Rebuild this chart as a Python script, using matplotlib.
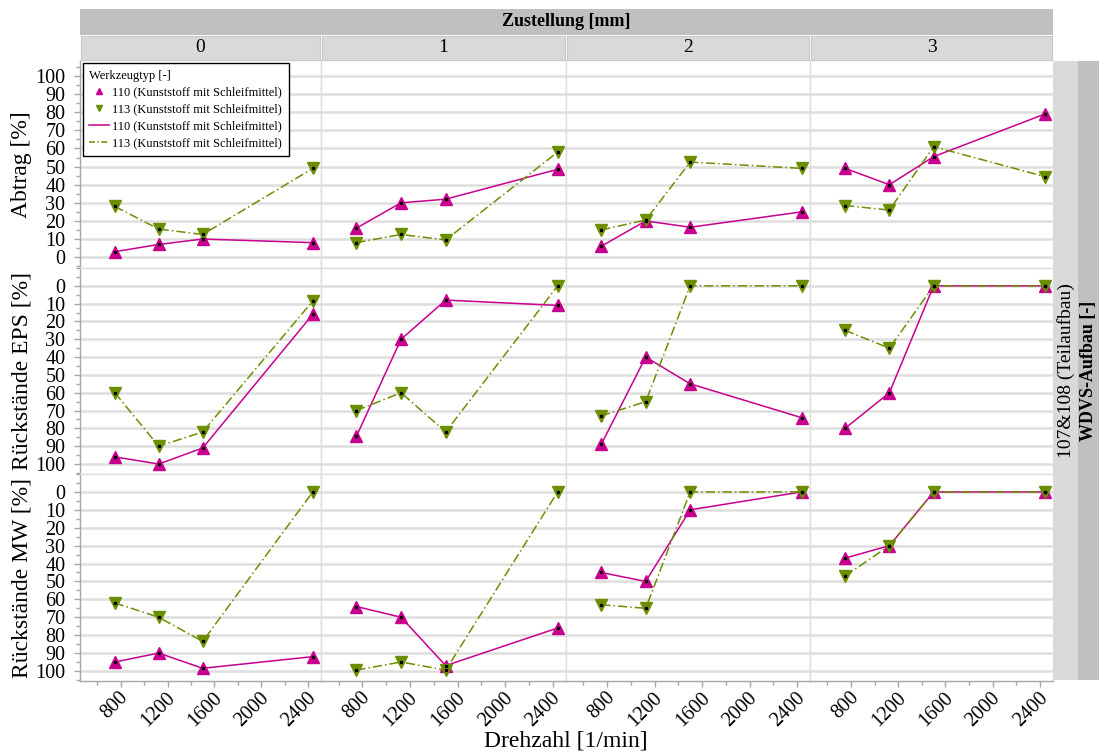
import matplotlib
matplotlib.use('Agg')
import matplotlib.pyplot as plt
import matplotlib.transforms as mtransforms
from matplotlib.lines import Line2D
from matplotlib.ticker import MultipleLocator, FixedLocator

plt.rcParams['font.family'] = ['Liberation Serif', 'DejaVu Serif']

# Versuchsdaten
drehzahl = [750, 1125, 1500, 2440]
zustellung = ['0', '1', '2', '3']
zeilen = ['Abtrag [%]', 'Rückstände EPS [%]', 'Rückstände MW [%]']
werkzeuge = ['110 (Kunststoff mit Schleifmittel)', '113 (Kunststoff mit Schleifmittel)']

# je Zustellung 0..3 eine Liste über die Drehzahlen
abtrag_110 = [[3, 7, 10, 8], [16, 30, 32, 48.5], [6, 20, 16.5, 25], [49, 40, 55.5, 79]]
abtrag_113 = [[28, 15.5, 12.5, 49], [8, 12.5, 9.5, 58], [15, 20.5, 52.5, 49], [28.5, 26, 61, 44.5]]
eps_110 = [[96, 100, 91, 16], [84.5, 30, 8, 11], [89, 40, 55, 74], [80, 60, 0, 0]]
eps_113 = [[60, 90, 82, 8.5], [70, 60, 82, 0], [73, 65, 0, 0], [25, 35, 0, 0]]
mw_110 = [[95, 90, 98.5, 92], [64, 70, 97, 76], [45, 50, 10, 0], [37, 30, 0, 0]]
mw_113 = [[62, 70, 83.5, 0], [99.5, 95, 99.5, 0], [63, 65, 0, 0], [47, 30, 0, 0]]

daten = [(abtrag_110, abtrag_113), (eps_110, eps_113), (mw_110, mw_113)]

c110 = '#c8008e'
c113 = '#6b8f00'
achse = '#a6a6a6'
gitter = '#dedede'

W, H = 1099, 756
fig = plt.figure(figsize=(W / 100, H / 100), dpi=100)


def box(x0, y0, x1, y1):
    return [x0 / W, 1 - y1 / H, (x1 - x0) / W, (y1 - y0) / H]


spalten = [80, 321, 566, 810, 1053]
reihen = [61, 268, 474, 681]

# Versatz der gedrehten x-Beschriftungen
versatz = mtransforms.ScaledTranslation(5 / 100, -5 / 100, fig.dpi_scale_trans)

for r in range(3):
    for c in range(4):
        ax = fig.add_axes(box(spalten[c], reihen[r], spalten[c + 1], reihen[r + 1]))
        y110, y113 = daten[r]
        ax.plot(drehzahl, y110[c], color=c110, lw=1.1, ls='-', marker='^', ms=8,
                mec=c110, mfc=c110, zorder=3)
        ax.plot(drehzahl, y113[c], color=c113, lw=1.1, ls=(0, (6, 2, 1, 2)), marker='v', ms=8,
                mec=c113, mfc=c113, zorder=4)
        ax.plot(drehzahl, y110[c], ls='none', marker='s', ms=1.4, color='k', zorder=5)
        ax.plot(drehzahl, y113[c], ls='none', marker='s', ms=1.4, color='k', zorder=5)

        ax.set_xlim(453, 2510)
        if r == 0:
            ax.set_ylim(-6, 108.3)
        else:
            ax.set_ylim(105.6, -10)

        ax.yaxis.set_major_locator(FixedLocator(range(0, 101, 10)))
        ax.yaxis.set_minor_locator(MultipleLocator(5))
        ax.xaxis.set_major_locator(FixedLocator([800, 1200, 1600, 2000, 2400]))
        ax.xaxis.set_minor_locator(FixedLocator([600, 1000, 1400, 1800, 2200]))
        ax.grid(axis='y', which='major', color=gitter, lw=1.8, zorder=0)

        for s in ax.spines.values():
            s.set_color(gitter)
            s.set_linewidth(1.0)
        ax.spines['top'].set_visible(r != 0)

        ax.tick_params(which='both', colors=achse, labelcolor='black', labelsize=14.5)
        ax.tick_params(which='major', length=4.5, width=1.0)
        ax.tick_params(which='minor', length=3, width=1.0)
        if c == 0:
            ax.spines['left'].set_color(achse)
            ax.tick_params(axis='y', pad=6)
            fig.text(22 / W, 1 - (reihen[r] + reihen[r + 1]) / 2 / H, zeilen[r],
                     rotation=90, ha='center', va='center', fontsize=17)
        else:
            ax.tick_params(axis='y', which='both', left=False, labelleft=False)
        if r == 2:
            ax.spines['bottom'].set_color(achse)
            ax.tick_params(axis='x', pad=2)
            for lbl in ax.get_xticklabels():
                lbl.set_rotation(45)
                lbl.set_ha('right')
                lbl.set_va('center')
                lbl.set_rotation_mode('anchor')
                lbl.set_transform(lbl.get_transform() + versatz)
        else:
            ax.tick_params(axis='x', which='both', bottom=False, labelbottom=False)

        if r == 0 and c == 0:
            handles = [
                Line2D([], [], ls='none', marker='^', ms=5, color=c110),
                Line2D([], [], ls='none', marker='v', ms=5, color=c113),
                Line2D([], [], ls='-', lw=1.1, color=c110),
                Line2D([], [], ls=(0, (4, 1.5, 1, 1.5)), lw=1.1, color=c113),
            ]
            leg = ax.legend(handles, werkzeuge + werkzeuge, title='Werkzeugtyp [-]',
                            loc='upper left', bbox_to_anchor=(0.0, 1.0), fontsize=9,
                            title_fontsize=9, alignment='left', frameon=True,
                            fancybox=False, edgecolor='black', framealpha=1,
                            handlelength=1.6, handletextpad=0.3, labelspacing=0.4,
                            borderpad=0.5, borderaxespad=0.2)
            leg.get_frame().set_linewidth(1.0)
            leg.set_zorder(10)

# Streifen oben
kopf = fig.add_axes(box(80, 9, 1053, 35))
kopf.set_facecolor('#c0c0c0')
kopf.set_xticks([])
kopf.set_yticks([])
for s in kopf.spines.values():
    s.set_visible(False)
kopf.text(0.5, 0.5, 'Zustellung [mm]', ha='center', va='center', fontsize=13,
          fontweight='bold', transform=kopf.transAxes)

for c in range(4):
    st = fig.add_axes(box(spalten[c] + 1, 36, spalten[c + 1] - 1, 60))
    st.set_facecolor('#d9d9d9')
    st.set_xticks([])
    st.set_yticks([])
    for s in st.spines.values():
        s.set_color('#c8c8c8')
    st.text(0.5, 0.5, zustellung[c], ha='center', va='center', fontsize=14,
            transform=st.transAxes)

# Streifen rechts
rs1 = fig.add_axes(box(1054, 61, 1078, 680))
rs1.set_facecolor('#d9d9d9')
rs2 = fig.add_axes(box(1078, 61, 1099, 680))
rs2.set_facecolor('#c0c0c0')
for a in (rs1, rs2):
    a.set_xticks([])
    a.set_yticks([])
    for s in a.spines.values():
        s.set_visible(False)
rs1.text(0.5, 0.5, '107&108 (Teilaufbau)', rotation=90, ha='center', va='center',
         fontsize=14, transform=rs1.transAxes)
rs2.text(0.5, 0.5, 'WDVS-Aufbau [-]', rotation=90, ha='center', va='center',
         fontsize=13, fontweight='bold', transform=rs2.transAxes)

fig.text(566 / W, 1 - 741 / H, 'Drehzahl [1/min]', ha='center', va='center', fontsize=17)

fig.savefig('out.png', dpi=100)
